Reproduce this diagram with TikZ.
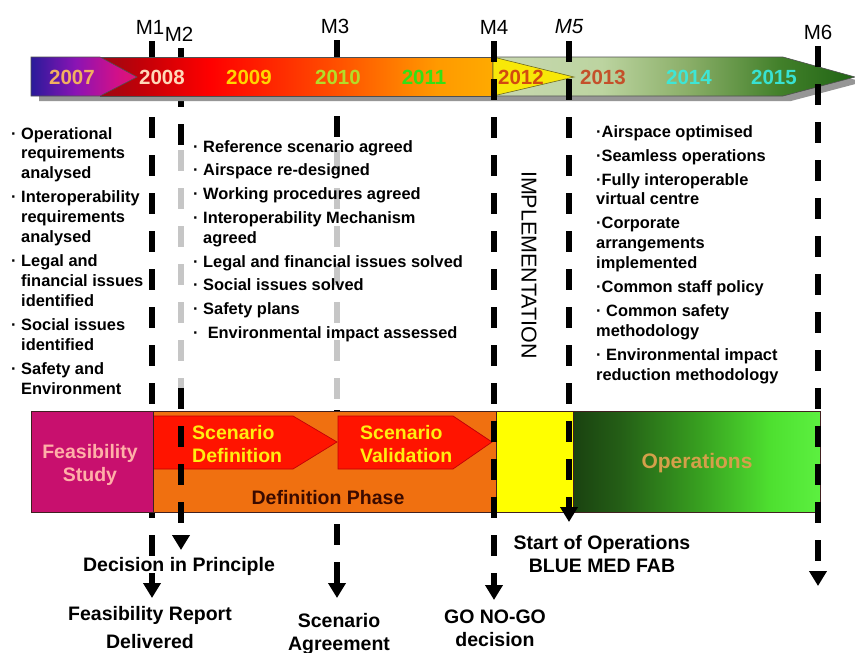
\documentclass[tikz,border=0pt]{standalone}
\usepackage{fontspec}
\setmainfont{Liberation Sans}
\usetikzlibrary{arrows.meta}

\definecolor{barblue}{HTML}{2A1A9A}
\definecolor{barpurple}{HTML}{8A14B4}
\definecolor{barmagenta}{HTML}{D0108A}
\definecolor{barpink}{HTML}{E21470}
\definecolor{reda}{HTML}{9A0A14}
\definecolor{redb}{HTML}{C00008}
\definecolor{redc}{HTML}{FF0000}
\definecolor{redd}{HTML}{FF4A00}
\definecolor{rede}{HTML}{FF9A00}
\definecolor{redf}{HTML}{FFAA00}
\definecolor{grna}{HTML}{C8D8B0}
\definecolor{grnb}{HTML}{BCD4A0}
\definecolor{grnc}{HTML}{8AAE68}
\definecolor{grnd}{HTML}{42802A}
\definecolor{grne}{HTML}{206414}
\definecolor{opsa}{HTML}{1A4210}
\definecolor{opsb}{HTML}{245E16}
\definecolor{opsc}{HTML}{38A020}
\definecolor{opsd}{HTML}{4EE030}
\definecolor{opse}{HTML}{5CF040}
\definecolor{barline}{HTML}{505050}
\definecolor{barshadow}{HTML}{969696}
\definecolor{yellowtri}{HTML}{F8E808}
\definecolor{boxline}{HTML}{402020}
\definecolor{feasmag}{HTML}{C8106E}
\definecolor{defphase}{HTML}{F07010}
\definecolor{scenred}{HTML}{FF1400}
\definecolor{implyel}{HTML}{FFFF00}
\definecolor{feastxt}{HTML}{FFB0A8}
\definecolor{scentxt}{HTML}{FFEE10}
\definecolor{phasetxt}{HTML}{3A0A00}
\definecolor{opstxt}{HTML}{D4A04A}
\definecolor{y07}{HTML}{F2B060}
\definecolor{y08}{HTML}{FFD8B8}
\definecolor{y09}{HTML}{FFD400}
\definecolor{y10}{HTML}{B4DC28}
\definecolor{y11}{HTML}{34E014}
\definecolor{y12}{HTML}{D24A10}
\definecolor{y13}{HTML}{C4502A}
\definecolor{y14}{HTML}{3EE6D6}
\definecolor{y15}{HTML}{38E2D2}

\pgfdeclarehorizontalshading{purplebar}{100bp}{color(0bp)=(barblue); color(25bp)=(barblue); color(46bp)=(barpurple); color(65bp)=(barmagenta); color(75bp)=(barpink); color(100bp)=(barpink)}
\pgfdeclarehorizontalshading{redbar}{100bp}{color(0bp)=(reda); color(25bp)=(reda); color(30bp)=(redb); color(39bp)=(redc); color(54bp)=(redd); color(68bp)=(rede); color(75bp)=(redf); color(100bp)=(redf)}
\pgfdeclarehorizontalshading{greenbar}{100bp}{color(0bp)=(grna); color(25bp)=(grna); color(40bp)=(grnb); color(52bp)=(grnc); color(64.6bp)=(grnd); color(75bp)=(grne); color(100bp)=(grne)}
\pgfdeclarehorizontalshading{opsbar}{100bp}{color(0bp)=(opsa); color(25bp)=(opsa); color(34.5bp)=(opsb); color(50.7bp)=(opsc); color(65bp)=(opsd); color(75bp)=(opse); color(100bp)=(opse)}

\newcommand\lstfont{\fontsize{16.4}{19.8}\selectfont\bfseries}
\newcommand\bulgap{\hphantom{· }}

\begin{document}
\begin{tikzpicture}[x=1pt,y=-1pt,
    ms/.style={line width=5.5pt,dash pattern=on 21pt off 17pt,-{Triangle[width=17pt,length=15pt]}},
    msg/.style={line width=5.5pt,dash pattern=on 21pt off 17pt,gray!45},
    mlab/.style={font=\fontsize{20.5}{24}\selectfont,inner sep=0pt},
    yr/.style={font=\fontsize{20.5}{24}\selectfont\bfseries,inner sep=0pt},
    lst/.style={font=\lstfont,align=left,inner sep=0pt,anchor=north west},
    box/.style={draw=boxline,line width=0.7pt},
    boxtxt/.style={font=\fontsize{19.5}{23}\selectfont\bfseries,inner sep=0pt},
    note/.style={font=\fontsize{19.5}{23}\selectfont\bfseries,align=center,inner sep=0pt}]
\useasboundingbox[fill=white] (0,0) rectangle (855,653);

\node[mlab] (m1) at (150,27) {M1};
\node[mlab] (m2) at (179,34) {M2};
\node[mlab] (m3) at (335,26) {M3};
\node[mlab] (m4) at (494,27) {M4};
\node[mlab] (m5) at (569,27) {\itshape M5};
\node[mlab] (m6) at (818,32) {M6};
\coordinate (m1e) at (152,598);
\coordinate (m2a) at (181,150);
\coordinate (m2b) at (181,388);
\coordinate (m2e) at (181,550);
\coordinate (m3a) at (337,150);
\coordinate (m3b) at (337,410);
\coordinate (m3e) at (337,598);
\coordinate (m4e) at (494,600);
\coordinate (m5e) at (569,522);
\coordinate (m6e) at (818,586);

\draw[ms,shorten <=7pt] (m1.south -| m1e) -- (m1e);
\draw[ms,-,shorten <=7pt] (m3.south -| m3e) -- (m3a);
\draw[msg] (m3a) -- (m3b);
\draw[ms] (m3b) -- (m3e);

\filldraw[box,fill=defphase] (153,411) rectangle (496,512);
\filldraw[box,draw=redb,fill=scenred] (153,416) -- (293,416) -- (337,442) -- (293,469) -- (153,469) -- cycle;
\filldraw[box,draw=redb,fill=scenred] (338,416) -- (453,416) -- (492,442) -- (453,469) -- (338,469) -- cycle;
\filldraw[box,fill=feasmag] (31,411) rectangle (153,512);
\filldraw[box,fill=implyel] (496,411) rectangle (573,512);
\shadedraw[box,shading=opsbar] (573,411) rectangle (820,512);
\node[boxtxt,align=center,text=feastxt] (feas) at (90,465) {Feasibility\\Study};
\node[boxtxt,align=left,text=scentxt,anchor=west] (scdef) at (192,444) {Scenario\\Definition};
\node[boxtxt,align=left,text=scentxt,anchor=west] (scval) at (360,444) {Scenario\\Validation};
\node[boxtxt,text=phasetxt] (defph) at (328,498) {Definition Phase};
\node[font=\fontsize{21}{24}\selectfont\bfseries,text=opstxt] (ops) at (697,463) {Operations};

\draw[ms,-,shorten <=7pt] (m2.south -| m2e) -- (m2a);
\draw[msg] (m2a) -- (m2b);
\draw[ms] (m2b) -- (m2e);

\fill[barshadow] (39,62) -- (791,62) -- (863,82) -- (791,101) -- (39,101) -- cycle;
\shadedraw[shading=redbar,draw=barline,line width=0.6pt] (100,57) rectangle (493,96);
\shadedraw[shading=greenbar,draw=barline,line width=0.6pt] (493,57) -- (783,57) -- (855,77) -- (783,96) -- (493,96) -- cycle;
\filldraw[fill=yellowtri,draw=olive!70!black,line width=0.6pt] (493,57) -- (574,77) -- (493,96) -- cycle;
\shadedraw[shading=purplebar,draw=barline,line width=0.6pt] (31,57) -- (100,57) -- (137,77) -- (100,96) -- (31,96) -- cycle;
\foreach \yr/\x/\c in {2007/72/y07,2008/162/y08,2009/249/y09,2010/338/y10,2011/424/y11,2012/521/y12,2013/603/y13,2014/689/y14,2015/774/y15}
    \node[yr,text=\c] (yr\yr) at (\x,77) {\yr};

\draw[ms,shorten <=7pt] (m4.south -| m4e) -- (m4e);
\draw[ms,shorten <=7pt] (m5.south -| m5e) -- (m5e);
\draw[ms,shorten <=7pt] (m6.south -| m6e) -- (m6e);

\node[lst] (prereq) at (11,127) {· Operational\\\bulgap requirements\\\bulgap analysed\\[4.5pt]· Interoperability\\\bulgap requirements\\\bulgap analysed\\[4.5pt]· Legal and\\\bulgap financial issues\\\bulgap identified\\[4.5pt]· Social issues\\\bulgap identified\\[4.5pt]· Safety and\\\bulgap Environment};
\node[lst] (defgoals) at (193,140) {· Reference scenario agreed\\[4pt]· Airspace re-designed\\[4pt]· Working procedures agreed\\[4pt]· Interoperability Mechanism\\\bulgap agreed\\[4pt]· Legal and financial issues solved\\[4pt]· Social issues solved\\[4pt]· Safety plans\\[4pt]·\ \ Environmental impact assessed};
\node[lst] (opgoals) at (596,125) {·Airspace optimised\\[4.2pt]·Seamless operations\\[4.2pt]·Fully interoperable\\virtual centre\\[4.2pt]·Corporate\\arrangements\\implemented\\[4.2pt]·Common staff policy\\[4.2pt]· Common safety\\methodology\\[4.2pt]· Environmental impact\\reduction methodology};
\node[font=\fontsize{21.5}{24}\selectfont,rotate=-90] (impl) at (529,265) {IMPLEMENTATION};

\node[note] (dip) at (179,566) {Decision in Principle};
\node[note] (frd) at (150,628) {Feasibility Report\\[5pt]Delivered};
\node[note] (sca) at (339,634) {Scenario\\Agreement};
\node[note] (gng) at (495,628) {GO NO-GO\\decision};
\node[note] (soo) at (602,554) {Start of Operations\\BLUE MED FAB};
\end{tikzpicture}
\end{document}
